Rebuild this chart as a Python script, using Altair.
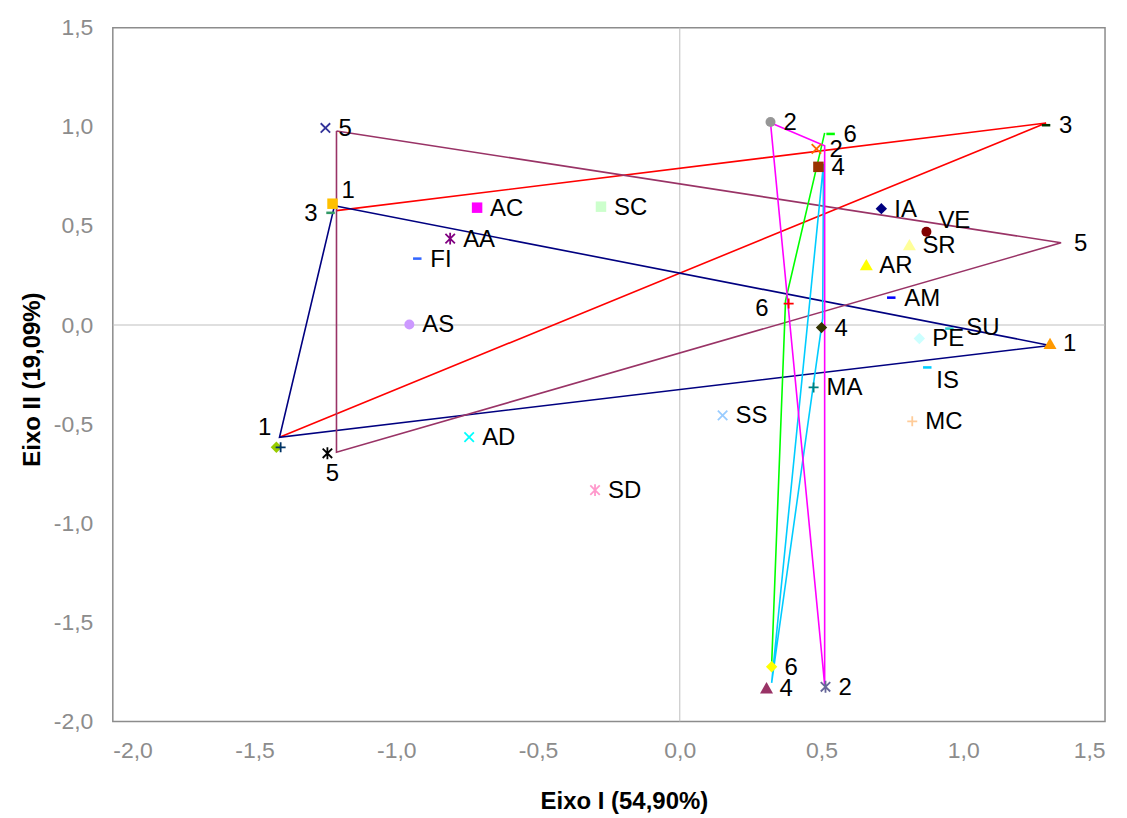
import altair as alt
import pandas as pd

# ---- polygon (line) series: vertices in data coordinates ----
line_series = ["3", "1", "5", "6", "4", "2"]
line_colors = {"1": "#000080", "3": "#FF0000", "5": "#993366",
               "2": "#FF00FF", "4": "#00CCFF", "6": "#00FF00"}
line_x = {
    "1": [-1.218, 1.306, -1.412, -1.218],
    "3": [-1.211, 1.292, -1.412],
    "5": [-1.211, 1.345, -1.211, -1.211],
    "2": [0.320, 0.511, 0.511, 0.320],
    "4": [0.507, 0.504, 0.324, 0.507],
    "6": [0.511, 0.373, 0.324],
}
line_y = {
    "1": [0.602, -0.103, -0.566, 0.602],
    "3": [0.577, 1.019, -0.566],
    "5": [0.979, 0.415, -0.642, 0.979],
    "2": [1.020, 0.904, -1.815, 1.020],
    "4": [0.813, 0.033, -1.805, 0.813],
    "6": [0.969, 0.123, -1.714],
}

# ---- labelled points ----
pt_label = ["AC", "SC", "AA", "FI", "AS", "AD", "SD", "SS", "MA", "IA", "VE", "SR",
            "AR", "AM", "SU", "PE", "IS", "MC",
            "1", "3", "5", "1", "", "5", "2", "6", "2", "4", "3", "5", "6", "4",
            "1", "6", "4", "2"]
pt_x = [-0.715, -0.278, -0.810, -0.926, -0.954, -0.743, -0.299, 0.151, 0.472, 0.711,
        0.870, 0.810, 0.658, 0.746, 0.951, 0.845, 0.873, 0.820,
        -1.225, -1.232, -1.250, -1.423, -1.408, -1.243, 0.320, 0.532, 0.482, 0.489,
        1.292, 1.345, 0.384, 0.500, 1.306, 0.324, 0.306, 0.514]
pt_y = [0.592, 0.597, 0.436, 0.335, 0.003, -0.566, -0.833, -0.456, -0.315, 0.587,
        0.471, 0.405, 0.305, 0.138, -0.018, -0.068, -0.214, -0.486,
        0.612, 0.566, 0.994, -0.617, -0.617, -0.647, 1.024, 0.964, 0.889, 0.798,
        1.008, 0.415, 0.108, -0.013, -0.093, -1.724, -1.830, -1.825]
pt_marker = ["square", "square", "star", "dash", "circle", "x", "star", "x", "plus", "diamond",
             "circle", "triangle", "triangle", "dash", "dash", "diamond", "dash", "plus",
             "square", "dash", "x", "diamond", "plus", "star", "circle", "dash", "x", "square",
             "dash", "none", "plus", "diamond", "triangle", "diamond", "triangle", "star"]
pt_color = ["#FF00FF", "#CCFFCC", "#800080", "#3366FF", "#CC99FF", "#00FFFF", "#FF99CC",
            "#99CCFF", "#008080", "#000080", "#800000", "#FFFF99", "#FFFF00", "#0000FF",
            "#33CCCC", "#CCFFFF", "#00CCFF", "#FFCC99",
            "#FFC000", "#339966", "#333399", "#99CC00", "#003366", "#000000", "#969696",
            "#00FF00", "#FF6600", "#993300", "#003300", "#FFFFFF", "#FF0000", "#333300",
            "#FF9900", "#FFFF00", "#993366", "#666699"]
pt_place = ["r", "r", "r", "r", "r", "r", "r", "r", "r", "r", "ur2", "r",
            "r", "r", "r2", "r", "dr", "r",
            "ur", "l", "r", "ul", "r", "b", "r", "r", "r", "r", "r", "r", "l2", "r",
            "r", "r", "r", "r"]

# ---- styles ----
shape_paths = {
    "square": "square",
    "circle": "circle",
    "diamond": "diamond",
    "triangle": "triangle-up",
    "dash": "M-1,-0.3L1,-0.3L1,0.3L-1,0.3Z",
    "x": "M-1,-1L1,1M-1,1L1,-1",
    "star": "M-1,-1L1,1M-1,1L1,-1M0,-1.25L0,1.25",
    "plus": "M-1,0L1,0M0,-1L0,1",
}
shape_sizes = {"square": 110, "circle": 100, "diamond": 130, "triangle": 170,
               "dash": 72, "x": 90, "star": 90, "plus": 100}
filled_markers = ["square", "circle", "diamond", "triangle", "dash"]
stroked_markers = ["x", "star", "plus"]
placements = {
    "r": (13, 1, "left"),
    "r2": (17, -1, "left"),
    "ur": (9, -13, "left"),
    "ur2": (12, -11, "left"),
    "dr": (9, 14, "left"),
    "l": (-13, 1, "right"),
    "l2": (-20, 5, "right"),
    "ul": (-5, -19, "right"),
    "b": (5, 21, "center"),
}

rows = []
for g in line_series:
    for i, (xv, yv) in enumerate(zip(line_x[g], line_y[g])):
        rows.append({"grp": g, "i": i, "x": xv, "y": yv, "col": line_colors[g]})
lines_df = pd.DataFrame(rows)

pts_df = pd.DataFrame({
    "label": pt_label, "x": pt_x, "y": pt_y, "marker": pt_marker,
    "col": pt_color, "place": pt_place,
})
pts_df["shape"] = pts_df["marker"].map(lambda m: shape_paths.get(m, "circle"))
pts_df["size"] = pts_df["marker"].map(lambda m: shape_sizes.get(m, 0))

ticks = [-2.0, -1.5, -1.0, -0.5, 0.0, 0.5, 1.0, 1.5]
label_expr = "(datum.value < 0 ? '-' : '') + replace(format(abs(datum.value), '.1f'), '.', ',')"

xscale = alt.Scale(domain=[-2, 1.5], nice=False, zero=False)
yscale = alt.Scale(domain=[-2, 1.5], nice=False, zero=False)

axis_common = dict(
    values=ticks, labelExpr=label_expr, grid=False, ticks=False, tickSize=0,
    domain=False, labelFont="Liberation Sans", labelFontSize=23,
    labelColor="#8C8C8C", titleFont="Liberation Sans", titleFontSize=24,
    titleFontWeight="bold", titleColor="#000000",
)

xenc = alt.X("x:Q", scale=xscale, axis=alt.Axis(
    title="Eixo I (54,90%)", labelPadding=18, titleX=512, titleY=80,
    titleBaseline="middle", titleAlign="center", **axis_common))
yenc = alt.Y("y:Q", scale=yscale, axis=alt.Axis(
    title="Eixo II (19,09%)", labelPadding=20, titleX=-80, titleY=352,
    titleAngle=270, titleBaseline="middle", titleAlign="center", **axis_common))

base_pts = alt.Chart(pts_df)

zero_df = pd.DataFrame({"x": [0.0], "y": [0.0]})
vrule = alt.Chart(zero_df).mark_rule(color="#BFBFBF", strokeWidth=1).encode(x=xenc)
hrule = alt.Chart(zero_df).mark_rule(color="#BFBFBF", strokeWidth=1).encode(y=yenc)

lines = alt.Chart(lines_df).mark_line(strokeWidth=1.6).encode(
    x=xenc, y=yenc,
    detail="grp:N",
    order="i:Q",
    color=alt.Color("col:N", scale=None),
)

filled = base_pts.transform_filter(
    alt.FieldOneOfPredicate(field="marker", oneOf=filled_markers)
).mark_point(filled=True, opacity=1, strokeWidth=0).encode(
    x=xenc, y=yenc,
    shape=alt.Shape("shape:N", scale=None),
    size=alt.Size("size:Q", scale=None),
    color=alt.Color("col:N", scale=None),
)

stroked = base_pts.transform_filter(
    alt.FieldOneOfPredicate(field="marker", oneOf=stroked_markers)
).mark_point(filled=False, opacity=1, strokeWidth=1.8).encode(
    x=xenc, y=yenc,
    shape=alt.Shape("shape:N", scale=None),
    size=alt.Size("size:Q", scale=None),
    color=alt.Color("col:N", scale=None),
)

text_layers = []
for key, (dx, dy, align) in placements.items():
    text_layers.append(
        base_pts.transform_filter(alt.datum.place == key).mark_text(
            font="Liberation Sans", fontSize=24, color="#000000",
            align=align, baseline="middle", dx=dx, dy=dy,
        ).encode(x=xenc, y=yenc, text="label:N")
    )

chart = alt.layer(vrule, hrule, lines, filled, stroked, *text_layers).properties(
    width=994, height=695,
    autosize=alt.AutoSizeParams(type="none"),
    padding={"left": 105, "top": 19, "right": 14, "bottom": 94},
    background="#FFFFFF",
).configure_view(stroke="#8C8C8C", strokeWidth=1.5)

chart.save("out.html", embed_options={"renderer": "svg", "actions": False})
